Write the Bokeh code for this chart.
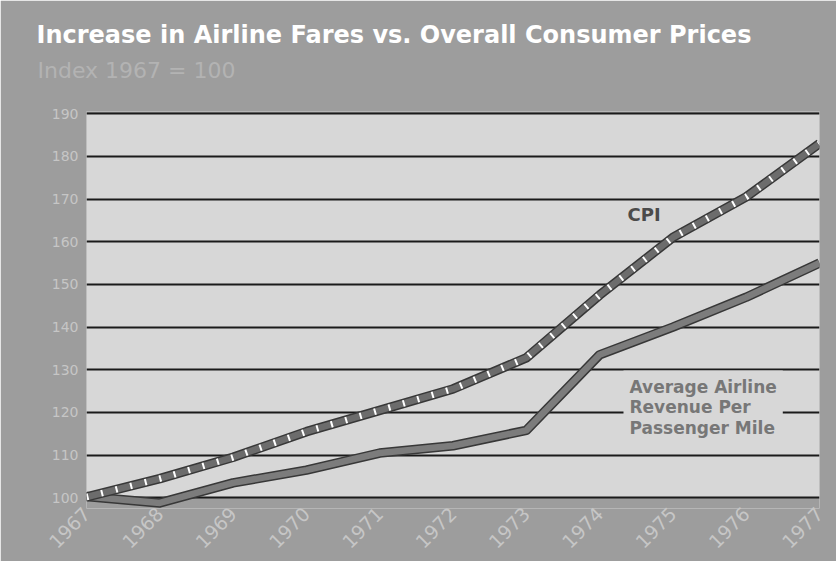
import math
from bokeh.plotting import figure
from bokeh.models import Range1d, FixedTicker, BoxAnnotation, Label, Title
from bokeh.embed import file_html
from bokeh.resources import INLINE

# ---- data ----
years = [1967, 1968, 1969, 1970, 1971, 1972, 1973, 1974, 1975, 1976, 1977]
cpi = [100.2, 104.5, 109.5, 115.5, 120.5, 125.5, 132.8, 147.5, 161.0, 170.5, 183.0]
airline = [100.3, 98.8, 103.5, 106.5, 110.5, 112.2, 115.8, 133.5, 140.0, 147.0, 155.0]
y_ticks = [100, 110, 120, 130, 140, 150, 160, 170, 180, 190]

title_text = "Increase in Airline Fares vs. Overall Consumer Prices"
subtitle_text = "Index 1967 = 100"
cpi_label = "CPI"
airline_label = "Average Airline\nRevenue Per\nPassenger Mile"

OUTER = "#9d9d9d"
LIGHT = "#d7d7d7"
TICK_TXT = "#c6c6c6"

p = figure(width=836, height=561, output_backend="svg", toolbar_location=None,
           x_range=Range1d(1967, 1977), y_range=Range1d(97.5, 190.5),
           min_border_left=86, min_border_right=17, min_border_top=111,
           min_border_bottom=53, background_fill_color=OUTER,
           border_fill_color=OUTER, outline_line_color=None)

# main title (outermost); an invisible spacer next to the frame, then the subtitle
p.title.text = title_text
p.title.align = "left"
p.title.offset = -50
p.title.text_font = "DejaVu Sans"
p.title.text_font_style = "bold"
p.title.text_font_size = "24px"
p.title.text_color = "white"
p.title.standoff = 13

p.add_layout(Title(text=" ", align="left", text_font_size="1px",
                   text_color=OUTER, standoff=26), "above")
p.add_layout(Title(text=subtitle_text, align="left", offset=-49,
                   text_font="DejaVu Sans", text_font_style="normal",
                   text_font_size="22px", text_color="#b3b3b3", standoff=0), "above")

# light plotting panel between 100 and 190
p.add_layout(BoxAnnotation(bottom=100, top=190, fill_color=LIGHT, fill_alpha=1,
                           line_color=None, level="image"))

# axes
p.xaxis.ticker = FixedTicker(ticks=years)
p.yaxis.ticker = FixedTicker(ticks=y_ticks)
for ax in (p.xaxis, p.yaxis):
    ax.axis_line_color = None
    ax.major_tick_line_color = None
    ax.minor_tick_line_color = None
    ax.major_tick_in = 0
    ax.major_tick_out = 0
    ax.major_label_text_color = TICK_TXT
    ax.major_label_text_font = "DejaVu Sans"
p.yaxis.major_label_text_font_size = "14px"
p.yaxis.major_label_standoff = 8
p.xaxis.major_label_text_font_size = "19px"
p.xaxis.major_label_orientation = math.pi / 4
p.xaxis.major_label_standoff = 2

p.xgrid.visible = False
p.ygrid.ticker = FixedTicker(ticks=y_ticks)
p.ygrid.grid_line_color = "#1a1a1a"
p.ygrid.grid_line_width = 2

# Airline revenue line (outlined gray band)
p.line(years, airline, line_width=9.5, line_color="#383838", line_join="round")
p.line(years, airline, line_width=6.5, line_color="#7c7c7c", line_join="round")

# CPI line (rope-like striped band)
p.line(years, cpi, line_width=9.5, line_color="#383838", line_join="round")
p.line(years, cpi, line_width=6.5, line_color="#6c6c6c", line_join="round")
p.line(years, cpi, line_width=6.5, line_color="white", line_dash="2 13")

p.add_layout(Label(x=541, y=294, x_units="screen", y_units="screen", text=cpi_label,
                   text_font="DejaVu Sans", text_font_style="bold",
                   text_font_size="18px", text_color="#4b4b4b",
                   text_baseline="alphabetic"))
p.add_layout(Label(x=537, y=138, x_units="screen", y_units="screen", text=airline_label,
                   text_font="DejaVu Sans", text_font_style="bold",
                   text_font_size="17px", text_color="#777777",
                   text_line_height=1.04, text_baseline="top",
                   background_fill_color=LIGHT, background_fill_alpha=1,
                   padding=6))

open("out.html", "w").write(file_html(p, INLINE))
